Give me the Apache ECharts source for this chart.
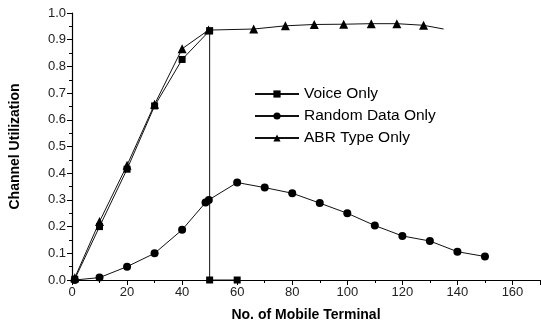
<!DOCTYPE html>
<html>
<head>
<meta charset="utf-8">
<script src="https://cdn.jsdelivr.net/npm/echarts@6/dist/echarts.min.js"></script>
<style>
  html, body { margin: 0; padding: 0; background: #fff; }
  #chart { width: 541px; height: 321px; }
</style>
</head>
<body>
<div id="chart"></div>
<script>
const voiceOnly = [
  [1, 0.003], [10, 0.2], [20, 0.415], [30, 0.652], [40, 0.826], [50, 0.934],
  [50, 0.0], [60, 0.0]
]
const randomDataOnly = [
  [1, 0.0], [10, 0.009], [20, 0.05], [30, 0.1], [40, 0.188], [48.5, 0.29], [49.7, 0.3],
  [60, 0.365], [70, 0.346], [80, 0.325], [90, 0.288], [100, 0.25], [110, 0.204],
  [120, 0.165], [130, 0.146], [140, 0.106], [150, 0.088]
]
const abrTypeOnly = [
  [1, 0.008], [10, 0.219], [20, 0.43], [30, 0.658], [40, 0.866], [49.6, 0.936],
  [66, 0.94], [77.5, 0.952], [88, 0.957], [98.7, 0.958], [108.7, 0.96],
  [118, 0.96], [127.7, 0.954], [135, 0.94]
]
const seriesNames = ['Voice Only', 'Random Data Only', 'ABR Type Only']

const chart = echarts.init(document.getElementById('chart'))

const font = 'Liberation Sans, Arial, sans-serif'

function makeSeries(name, data, symbol, size) {
  return {
    name,
    type: 'line',
    data: data.map((p, i) => {
      // last ABR point has no marker in the original
      if (name === 'ABR Type Only' && i === data.length - 1) {
        return { value: p, symbol: 'none' }
      }
      return p
    }),
    symbol,
    symbolSize: size,
    showAllSymbol: true,
    lineStyle: { color: '#111', width: 1 },
    itemStyle: { color: '#000' },
    emphasis: { disabled: true },
  }
}

chart.setOption({
  animation: false,
  grid: { left: 72, right: 1, top: 13, bottom: 41, outerBoundsMode: 'none' },
  legend: {
    orient: 'vertical',
    left: 249,
    top: 81,
    itemWidth: 44,
    itemHeight: 9,
    itemGap: 6,
    data: seriesNames,
    textStyle: { fontFamily: font, fontSize: 15.5, color: '#000' },
  },
  xAxis: {
    type: 'value',
    min: 0,
    max: 170,
    interval: 20,
    name: 'No. of Mobile Terminal',
    nameLocation: 'middle',
    nameGap: 28,
    nameTextStyle: { fontFamily: font, fontSize: 14, fontWeight: 'bold', color: '#000' },
    axisLine: { lineStyle: { color: '#000', width: 1.2 } },
    axisTick: { length: 5, lineStyle: { color: '#000' } },
    minorTick: { show: true, splitNumber: 2, length: 3, lineStyle: { color: '#000' } },
    axisLabel: {
      fontFamily: font, fontSize: 13, color: '#222', margin: 6,
      formatter: v => (v > 160 ? '' : String(v)),
    },
    splitLine: { show: false },
  },
  yAxis: {
    type: 'value',
    min: 0,
    max: 1,
    interval: 0.1,
    name: 'Channel Utilization',
    nameLocation: 'middle',
    nameGap: 50,
    nameRotate: 90,
    nameTextStyle: { fontFamily: font, fontSize: 14, fontWeight: 'bold', color: '#000' },
    axisLine: { show: true, lineStyle: { color: '#000', width: 1.2 } },
    axisTick: { show: true, length: 5, lineStyle: { color: '#000' } },
    minorTick: { show: true, splitNumber: 2, length: 3, lineStyle: { color: '#000' } },
    axisLabel: {
      fontFamily: font, fontSize: 13, color: '#222', margin: 6,
      formatter: v => v.toFixed(1),
    },
    splitLine: { show: false },
  },
  series: [
    makeSeries('Voice Only', voiceOnly, 'rect', 7),
    makeSeries('Random Data Only', randomDataOnly, 'circle', 8),
    makeSeries('ABR Type Only', abrTypeOnly, 'triangle', 9),
  ],
})
</script>
</body>
</html>
